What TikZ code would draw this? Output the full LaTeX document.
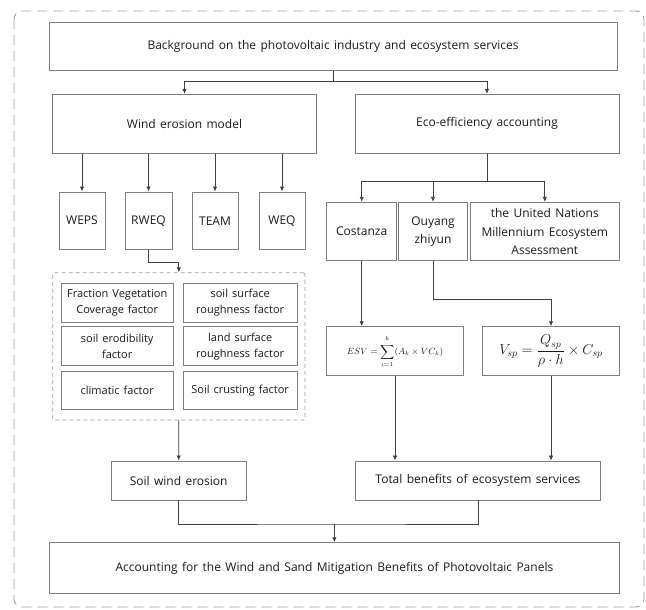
\documentclass[tikz,border=0pt]{standalone}
\usepackage{fontspec}
\setmainfont[WordSpace={1.4}]{Open Sans}
\usetikzlibrary{arrows.meta}
\definecolor{boxc}{HTML}{7F7F7F}
\definecolor{linec}{HTML}{404040}
\definecolor{dashc}{HTML}{9CA0B0}
\definecolor{txt}{HTML}{1A1A1A}
\begin{document}
\begin{tikzpicture}[x=1pt,y=-1pt,
  box/.style={draw=boxc, line width=0.9pt, rectangle, align=center, inner sep=1pt,
    text=txt, font=\fontsize{12}{18.5}\selectfont},
  fbox/.style={box, font=\fontsize{11}{16}\selectfont},
  conn/.style={draw=linec, line width=0.8pt},
  arr/.style={conn, -{Latex[length=5pt,width=4.5pt]}}]
\path[use as bounding box] (0,0) rectangle (646,610);
% outer dashed frame
\draw[dashc, line width=0.9pt, dash pattern=on 10pt off 6pt, rounded corners=8pt] (14,11) rectangle (644,607);
% top
\node[box, minimum width=568pt, minimum height=48pt] (top) at (333,46.7) {Background on the photovoltaic industry and ecosystem services};
\node[box, minimum width=263.7pt, minimum height=59pt] (wind) at (184.5,123.8) {Wind erosion model};
\node[box, minimum width=264pt, minimum height=59pt] (eco) at (487,123.8) {Eco-efficiency accounting};
% models
\node[box, minimum width=46pt, minimum height=57.5pt] (weps) at (82,220.7) {WEPS};
\node[box, minimum width=47pt, minimum height=57.5pt] (rweq) at (148.5,220.7) {RWEQ};
\node[box, minimum width=46pt, minimum height=57.5pt] (team) at (215,220.7) {TEAM};
\node[box, minimum width=46pt, minimum height=57.5pt] (weq) at (282,220.7) {WEQ};
% methods
\node[box, minimum width=70pt, minimum height=58.4pt] (cost) at (361.7,231.5) {Costanza};
\node[box, minimum width=69.4pt, minimum height=58.4pt] (ouy) at (433,231.5) {Ouyang\\zhiyun};
\node[box, minimum width=149pt, minimum height=58.4pt] (un) at (544.8,231.5) {the United Nations\\Millennium Ecosystem\\Assessment};
% factor group
\node[draw=dashc, line width=0.9pt, dash pattern=on 4pt off 3pt, rounded corners=1.5pt, minimum width=252.3pt, minimum height=147.3pt, inner sep=0pt] (fac) at (178.85,346.35) {};
\node[fbox, minimum width=112.3pt, minimum height=38.7pt] (f1) at (117.2,302.7) {Fraction Vegetation\\Coverage factor};
\node[fbox, minimum width=114.3pt, minimum height=38.7pt] (f2) at (240.2,302.7) {soil surface\\roughness factor};
\node[fbox, minimum width=112.3pt, minimum height=39pt] (f3) at (117.2,346.2) {soil erodibility\\factor};
\node[fbox, minimum width=114.3pt, minimum height=39pt] (f4) at (240.2,346.2) {land surface\\roughness factor};
\node[fbox, minimum width=112.3pt, minimum height=38.3pt] (f5) at (117.2,390.2) {climatic factor};
\node[fbox, minimum width=114.3pt, minimum height=38.3pt] (f6) at (240.2,390.2) {Soil crusting factor};
% formulas
\node[box, minimum width=136.6pt, minimum height=49pt, inner sep=0pt, font=\fontsize{9.2}{11}\selectfont] (esv) at (395,351.2) {$\displaystyle ESV=\sum_{i=1}^{\raisebox{1.5pt}{$\scriptstyle k$}}(A_k\times VC_k)$};
\node[box, minimum width=136.6pt, minimum height=49pt, font=\fontsize{14.5}{17}\selectfont] (vsp) at (551,351.2) {$\displaystyle V_{sp}=\frac{Q_{sp}}{\rho\cdot h}\times C_{sp}$};
% results
\node[box, minimum width=135.4pt, minimum height=39pt] (sw) at (178.7,480.5) {Soil wind erosion};
\node[box, minimum width=245.7pt, minimum height=39pt] (tot) at (477.9,480.5) {Total benefits of ecosystem services};
\node[box, minimum width=570pt, minimum height=50.6pt] (fin) at (334.4,568) {Accounting for the Wind and Sand Mitigation Benefits of Photovoltaic Panels};
% junctions
\coordinate (jt) at (333,81.7);
\coordinate (je) at (487,181);
\coordinate (jr) at (148.5,262.7);
\coordinate (jo) at (433,299);
\coordinate (jb) at (334.4,524);
% connectors
\draw[conn] (top.south) -- (jt);
\draw[arr] (jt) -| (wind.north);
\draw[arr] (jt) -| (eco.north);
\foreach \m in {weps,rweq,team,weq}{\draw[arr] (wind.south -| \m.north) -- (\m.north);}
\draw[conn] (eco.south) -- (je);
\foreach \m in {cost,ouy,un}{\draw[arr] (je) -| (\m.north);}
\draw[conn] (rweq.south) -- (jr);
\draw[arr] (jr) -| (fac.north);
\draw[arr] (fac.south) -- (sw.north);
\draw[arr] (cost.south) -- (cost.south |- esv.north);
\draw[conn] (ouy.south) -- (jo);
\draw[arr] (jo) -| (vsp.north);
\draw[arr] (esv.south) -- (esv.south |- tot.north);
\draw[arr] (vsp.south) -- (vsp.south |- tot.north);
\draw[conn] (sw.south) |- (jb) -| (tot.south);
\draw[arr] (jb) -- (fin.north);
\end{tikzpicture}
\end{document}
